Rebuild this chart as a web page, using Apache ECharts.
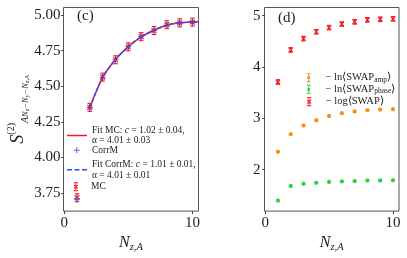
<!DOCTYPE html>
<html>
<head>
<meta charset="utf-8">
<script src="https://cdn.jsdelivr.net/npm/echarts@6/dist/echarts.min.js"></script>
<style>html,body{margin:0;padding:0;background:#fff;}#c{width:407px;height:258px;}</style>
</head>
<body>
<div id="c"></div>
<script>
// ---------- data ----------
const xs = [1, 2, 3, 4, 5, 6, 7, 8, 9, 10];
// panel (c)
const mcVals = [3.718, 4.352, 4.564, 4.686, 4.777, 4.848, 4.891, 4.932, 4.945, 4.950];
const mcErr = [0.028, 0.028, 0.028, 0.028, 0.028, 0.028, 0.028, 0.028, 0.028, 0.028];
const corrMVals = [3.712, 4.350, 4.562, 4.686, 4.778, 4.848, 4.892, 4.930, 4.944, 4.950];
const fitX = [2, 3, 4, 5, 6, 7, 8, 9, 10, 10.47];
const fitMCVals = [4.350, 4.562, 4.688, 4.778, 4.846, 4.893, 4.928, 4.945, 4.950, 4.952];
const fitCorrMVals = [4.350, 4.562, 4.688, 4.778, 4.846, 4.893, 4.928, 4.945, 4.950, 4.952];
const cTicks = [3.75, 4.00, 4.25, 4.50, 4.75, 5.00];
// panel (d)
const logSwapVals = [3.707, 4.332, 4.553, 4.685, 4.767, 4.837, 4.880, 4.918, 4.930, 4.937];
const logSwapErr = [0.045, 0.045, 0.045, 0.045, 0.045, 0.045, 0.045, 0.045, 0.045, 0.045];
const ampVals = [2.348, 2.689, 2.860, 2.962, 3.044, 3.100, 3.133, 3.157, 3.170, 3.176];
const ampErr = [0.02, 0.02, 0.02, 0.02, 0.02, 0.02, 0.02, 0.02, 0.02, 0.02];
const phaseVals = [1.396, 1.680, 1.724, 1.743, 1.761, 1.769, 1.775, 1.788, 1.788, 1.790];
const phaseErr = [0.02, 0.02, 0.02, 0.02, 0.02, 0.02, 0.02, 0.02, 0.02, 0.02];
const dTicks = [2, 3, 4, 5];
const xTicks = [0, 10];

// ---------- styling ----------
const FONT = 'Liberation Serif';
const TXT = '#222';
const RED = '#f01a24';
const BLUE = '#2a4dff';
const ORANGE = '#ff8a1c';
const GREEN = '#2bd43a';

function errItem(color, marker, capHalf, mHalf) {
  return function (params, api) {
    const x = api.value(0), y = api.value(1), e = api.value(2);
    const p = api.coord([x, y]);
    const pt = api.coord([x, y + e]);
    const pb = api.coord([x, y - e]);
    const st = { stroke: color, lineWidth: 1.1 };
    const ch = [
      { type: 'line', shape: { x1: p[0], y1: pt[1], x2: p[0], y2: pb[1] }, style: st },
      { type: 'line', shape: { x1: p[0] - capHalf, y1: pt[1], x2: p[0] + capHalf, y2: pt[1] }, style: st },
      { type: 'line', shape: { x1: p[0] - capHalf, y1: pb[1], x2: p[0] + capHalf, y2: pb[1] }, style: st }
    ];
    if (marker === 'x') {
      const s2 = { stroke: color, lineWidth: 1.2 };
      ch.push({ type: 'line', shape: { x1: p[0] - mHalf, y1: p[1] - mHalf, x2: p[0] + mHalf, y2: p[1] + mHalf }, style: s2 });
      ch.push({ type: 'line', shape: { x1: p[0] - mHalf, y1: p[1] + mHalf, x2: p[0] + mHalf, y2: p[1] - mHalf }, style: s2 });
    } else {
      const s2 = { stroke: color, lineWidth: 1.8 };
      ch.push({ type: 'line', shape: { x1: p[0] - mHalf, y1: p[1], x2: p[0] + mHalf, y2: p[1] }, style: s2 });
      ch.push({ type: 'line', shape: { x1: p[0], y1: p[1] - mHalf, x2: p[0], y2: p[1] + mHalf }, style: s2 });
    }
    return { type: 'group', children: ch };
  };
}

const plusPath = 'path://M4.1 0h1.8v10h-1.8z M0 4.1h10v1.8h-10z';
const errXIcon = 'path://M4.3 0h1.4v14h-1.4z M1.5 0h7v1.6h-7z M1.5 12.4h7v1.6h-7z M1.4 4.6L2.6 3.4L8.6 9.4L7.4 10.6Z M7.4 3.4L8.6 4.6L2.6 10.6L1.4 9.4Z';
const errDotIcon = 'path://M4.3 0h1.4v14h-1.4z M2 0h6v1.5h-6z M2 12.5h6v1.5h-6z M3 4.8h4v4.4h-4z';
const lineIcon = 'path://M0 0h20v1.5h-20z';
const dashIcon = 'path://M0 0h5v1.5h-5z M7.5 0h5v1.5h-5z M15 0h5v1.5h-5z';

const axisLabelStyle = { color: TXT, fontFamily: FONT, fontSize: 15 };
function richL(pad) {
  return {
    i: { fontStyle: 'italic', fontFamily: FONT, fontSize: 9.5, color: TXT },
    t: { fontFamily: FONT, fontSize: 9.5, color: TXT, padding: [0, 0, 0, pad] }
  };
}
function richR(pad) {
  return {
    t: { fontFamily: FONT, fontSize: 10.5, color: TXT, padding: [0, 0, 0, pad] },
    e: { fontFamily: FONT, fontSize: 10.5, color: TXT },
    s: { fontFamily: FONT, fontSize: 7.5, color: TXT, verticalAlign: 'bottom', lineHeight: 11 }
  };
}

function legendOne(item, left, top, w, h, fmt, fontSize, lh, rich) {
  return {
    data: [item], left: left, top: top, padding: 0, itemWidth: w, itemHeight: h,
    selectedMode: false, orient: 'vertical',
    formatter: function () { return fmt; },
    textStyle: { fontFamily: FONT, fontSize: fontSize, color: TXT, lineHeight: lh, rich: rich }
  };
}

const option = {
  animation: false,
  backgroundColor: '#fff',
  title: [
    { text: '(c)', left: 77, top: 9, padding: 0, textStyle: { fontFamily: FONT, fontSize: 15, fontWeight: 'normal', color: TXT } },
    { text: '(d)', left: 278, top: 11, padding: 0, textStyle: { fontFamily: FONT, fontSize: 15, fontWeight: 'normal', color: TXT } }
  ],
  grid: [
    { left: 63.5, top: 7.5, width: 135, height: 209, show: true, borderColor: '#555', borderWidth: 1, backgroundColor: 'transparent' },
    { left: 264.5, top: 7.5, width: 134.5, height: 209, show: true, borderColor: '#555', borderWidth: 1, backgroundColor: 'transparent' }
  ],
  xAxis: [0, 1].map(function (g) {
    return {
      type: 'value', gridIndex: g, min: -0.05, max: 10.47,
      axisLine: { show: false }, splitLine: { show: false },
      axisTick: { show: true, inside: false, length: 3, customValues: xTicks, lineStyle: { color: '#444' } },
      axisLabel: Object.assign({ customValues: xTicks, margin: 4, formatter: function (v) { return String(v); } }, axisLabelStyle),
      name: '{N|N}{s|z,A}', nameLocation: 'middle', nameGap: 15,
      nameTextStyle: {
        rich: {
          N: { fontFamily: FONT, fontStyle: 'italic', fontSize: 16, color: TXT, lineHeight: 20, verticalAlign: 'middle' },
          s: { fontFamily: FONT, fontStyle: 'italic', fontSize: 10.5, color: TXT, lineHeight: 12, verticalAlign: 'bottom' }
        }
      }
    };
  }),
  yAxis: [
    {
      type: 'value', gridIndex: 0, min: 3.6245, max: 5.0525,
      axisLine: { show: false }, splitLine: { show: false },
      axisTick: { show: true, length: 3, customValues: cTicks, lineStyle: { color: '#444' } },
      axisLabel: Object.assign({ customValues: cTicks, margin: 3, formatter: function (v) { return v.toFixed(2); } }, axisLabelStyle),
      name: '{S|S}{sup|(2)}{a|A}{b|N}{c|z}{b|−N}{c|y}{b|−N}{c|z,A}',
      nameLocation: 'middle', nameRotate: 90, nameGap: 30,
      nameTextStyle: {
        rich: {
          S: { fontFamily: FONT, fontStyle: 'italic', fontSize: 18, color: TXT, lineHeight: 24, verticalAlign: 'middle' },
          sup: { fontFamily: FONT, fontSize: 10, color: TXT, lineHeight: 11, verticalAlign: 'top' },
          a: { fontFamily: FONT, fontStyle: 'italic', fontSize: 10, color: TXT, lineHeight: 13, verticalAlign: 'bottom' },
          b: { fontFamily: FONT, fontStyle: 'italic', fontSize: 8.5, color: TXT, lineHeight: 11, verticalAlign: 'bottom' },
          c: { fontFamily: FONT, fontStyle: 'italic', fontSize: 6.5, color: TXT, lineHeight: 8, verticalAlign: 'bottom' }
        }
      }
    },
    {
      type: 'value', gridIndex: 1, min: 1.191, max: 5.159,
      axisLine: { show: false }, splitLine: { show: false },
      axisTick: { show: true, length: 3, customValues: dTicks, lineStyle: { color: '#444' } },
      axisLabel: Object.assign({ customValues: dTicks, margin: 4, formatter: function (v) { return String(v); } }, axisLabelStyle)
    }
  ],
  legend: [
    legendOne({ name: 'Fit MC', icon: lineIcon }, 67, 125, 20, 1.5, 'Fit MC: {i|c} = 1.02 ± 0.04,\nα = 4.01 ± 0.03', 9.5, 10.5, richL(0)),
    legendOne({ name: 'CorrM', icon: plusPath }, 73.7, 145, 6, 6, '{t|CorrM}', 9.5, 10.5, richL(7.3)),
    legendOne({ name: 'Fit CorrM', icon: dashIcon }, 67, 159.3, 20, 1.5, 'Fit CorrM: {i|c} = 1.01 ± 0.01,\nα = 4.01 ± 0.01', 9.5, 10.5, richL(0)),
    legendOne({ name: 'MC', icon: errXIcon }, 73.5, 181.5, 6.4, 9, '{t|MC}', 9.5, 10.5, richL(7.1)),
    legendOne({ name: 'amp', icon: errDotIcon }, 306.8, 71.7, 6.4, 9, '{t|− ln⟨SWAP}{s|amp}{e|⟩}', 10.5, 12, richR(8.5)),
    legendOne({ name: 'phase', icon: errDotIcon }, 306.8, 83.3, 6.4, 9, '{t|− ln⟨SWAP}{s|phase}{e|⟩}', 10.5, 12, richR(8.5)),
    legendOne({ name: 'log', icon: errXIcon }, 306.8, 95.7, 6.4, 9, '{t|− log⟨SWAP⟩}', 10.5, 12, richR(8.5))
  ],
  series: [
    {
      name: 'Fit MC', type: 'line', xAxisIndex: 0, yAxisIndex: 0, symbol: 'none', smooth: 0.3,
      data: fitX.map(function (x, i) { return [x, fitMCVals[i]]; }),
      lineStyle: { color: RED, width: 1.5 }, itemStyle: { color: RED }, z: 2
    },
    {
      name: 'Fit CorrM', type: 'line', xAxisIndex: 0, yAxisIndex: 0, symbol: 'none', smooth: 0.3,
      data: fitX.map(function (x, i) { return [x, fitCorrMVals[i]]; }),
      lineStyle: { color: BLUE, width: 1.5, type: [4, 2] }, itemStyle: { color: BLUE }, z: 3
    },
    {
      name: 'MC', type: 'custom', xAxisIndex: 0, yAxisIndex: 0, coordinateSystem: 'cartesian2d',
      renderItem: errItem(RED, 'x', 2.3, 2.4),
      encode: { x: 0, y: 1 },
      data: xs.map(function (x, i) { return [x, mcVals[i], mcErr[i]]; }),
      itemStyle: { color: RED }, z: 4
    },
    {
      name: 'CorrM', type: 'scatter', xAxisIndex: 0, yAxisIndex: 0, symbol: plusPath, symbolSize: 6,
      data: xs.map(function (x, i) { return [x, corrMVals[i]]; }),
      itemStyle: { color: BLUE }, z: 5
    },
    {
      name: 'amp', type: 'custom', xAxisIndex: 1, yAxisIndex: 1, coordinateSystem: 'cartesian2d',
      renderItem: errItem(ORANGE, 'p', 1.8, 2.0),
      encode: { x: 0, y: 1 },
      data: xs.map(function (x, i) { return [x, ampVals[i], ampErr[i]]; }),
      itemStyle: { color: ORANGE }
    },
    {
      name: 'phase', type: 'custom', xAxisIndex: 1, yAxisIndex: 1, coordinateSystem: 'cartesian2d',
      renderItem: errItem(GREEN, 'p', 1.8, 2.0),
      encode: { x: 0, y: 1 },
      data: xs.map(function (x, i) { return [x, phaseVals[i], phaseErr[i]]; }),
      itemStyle: { color: GREEN }
    },
    {
      name: 'log', type: 'custom', xAxisIndex: 1, yAxisIndex: 1, coordinateSystem: 'cartesian2d',
      renderItem: errItem(RED, 'x', 2.2, 2.0),
      encode: { x: 0, y: 1 },
      data: xs.map(function (x, i) { return [x, logSwapVals[i], logSwapErr[i]]; }),
      itemStyle: { color: RED }
    }
  ]
};

const chart = echarts.init(document.getElementById('c'), null, { renderer: 'canvas' });
chart.setOption(option);
</script>
</body>
</html>
